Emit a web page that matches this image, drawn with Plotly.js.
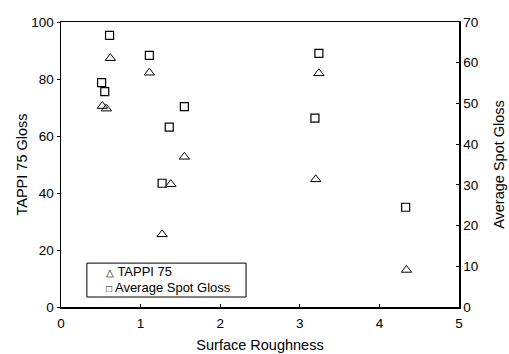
<!DOCTYPE html>
<html>
<head>
<meta charset="utf-8">
<script src="https://cdn.plot.ly/plotly-3.0.1.min.js"></script>
<style>html,body{margin:0;padding:0;background:#fff;}#chart{width:509px;height:354px;}</style>
</head>
<body>
<div id="chart"></div>
<script>
// Gloss measurements versus surface roughness
const tappiRoughness = [0.52, 0.57, 0.62, 1.11, 1.27, 1.38, 1.55, 3.20, 3.24, 4.34];
const tappiGloss     = [70.5, 69.6, 87.3, 82.2, 25.5, 43.1, 52.7, 44.8, 82.0, 13.0];

const spotRoughness  = [0.51, 0.55, 0.61, 1.11, 1.27, 1.36, 1.55, 3.19, 3.24, 4.33];
const spotGloss      = [55.1, 52.9, 66.7, 61.8, 30.4, 44.2, 49.2, 46.4, 62.3, 24.5];

const seriesNames = ['TAPPI 75', 'Average Spot Gloss'];
const legendGlyphs = ['\u25B3', '\u25A1'];

const fontFamily = 'Liberation Sans, Arial, sans-serif';

const traces = [
  {
    x: tappiRoughness, y: tappiGloss, name: seriesNames[0],
    type: 'scatter', mode: 'markers', yaxis: 'y',
    marker: {symbol: 'triangle-up-open', size: 9, color: '#000', line: {width: 1, color: '#000'}}
  },
  {
    x: spotRoughness, y: spotGloss, name: seriesNames[1],
    type: 'scatter', mode: 'markers', yaxis: 'y2',
    marker: {symbol: 'square-open', size: 8, color: '#000', line: {width: 1.2, color: '#000'}}
  }
];

// Boxed key in the lower-left corner of the plot area
const keyBox = {x0: 0.065, x1: 0.465, y0: 0.035, y1: 0.154};
const keyRows = [0.123, 0.070];

const layout = {
  width: 509, height: 354,
  margin: {l: 61, r: 50, t: 22, b: 47},
  paper_bgcolor: '#fff', plot_bgcolor: '#fff',
  font: {family: fontFamily, size: 13, color: '#000'},
  showlegend: false,
  shapes: [{
    type: 'rect', xref: 'paper', yref: 'paper',
    x0: keyBox.x0, x1: keyBox.x1, y0: keyBox.y0, y1: keyBox.y1,
    line: {color: '#000', width: 1}, fillcolor: '#fff', layer: 'above'
  }],
  annotations: seriesNames.map((name, i) => ({
    xref: 'paper', yref: 'paper', x: 0.109, y: keyRows[i],
    xanchor: 'left', yanchor: 'middle', showarrow: false,
    text: '<span style="font-size:10px">' + legendGlyphs[i] + '</span> ' + name,
    font: {family: fontFamily, size: 13, color: '#000'}
  })),
  xaxis: {
    range: [0, 5], dtick: 1, tick0: 0,
    showgrid: false, zeroline: false,
    showline: true, linecolor: '#000', linewidth: 1.5, mirror: true,
    ticks: 'inside', ticklen: 3, tickcolor: '#000',
    tickfont: {size: 13.5}, ticklabelstandoff: 3,
    title: {text: 'Surface Roughness', font: {size: 14.5}, standoff: 10}
  },
  yaxis: {
    range: [0, 100], dtick: 20,
    showgrid: false, zeroline: false,
    showline: true, linecolor: '#000', linewidth: 1.5,
    ticks: 'outside', ticklen: 3, tickcolor: '#000',
    tickfont: {size: 13.5},
    title: {text: 'TAPPI 75 Gloss', font: {size: 14.5}, standoff: 0}
  },
  yaxis2: {
    overlaying: 'y', side: 'right',
    range: [0, 70], dtick: 10,
    showgrid: false, zeroline: false,
    showline: true, linecolor: '#000', linewidth: 1.5,
    ticks: 'inside', ticklen: 3, tickcolor: '#000',
    tickfont: {size: 13.5},
    title: {text: 'Average Spot Gloss', font: {size: 14.5}, standoff: 16}
  }
};

Plotly.newPlot('chart', traces, layout, {staticPlot: true, displayModeBar: false});
</script>
</body>
</html>
